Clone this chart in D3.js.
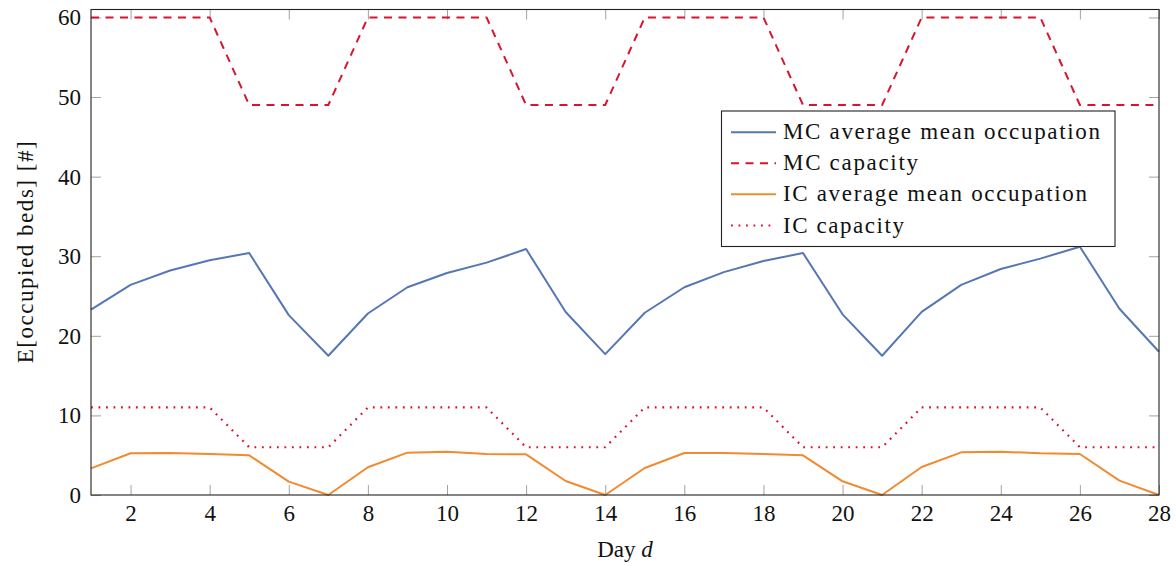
<!DOCTYPE html>
<html>
<head>
<meta charset="utf-8">
<script src="https://cdn.jsdelivr.net/npm/d3@7"></script>
<style>
  html, body { margin: 0; padding: 0; background: #fff; }
  svg { display: block; }
  text { font-family: "Liberation Serif", "Times New Roman", "DejaVu Serif", serif; fill: #111; }
</style>
</head>
<body>
<svg id="chart" width="1176" height="566"></svg>
<script>
// Days of the four-week horizon
const days = d3.range(1, 29);

// Expected occupied beds per day
const mcOccupation = [23.3, 26.4, 28.2, 29.5, 30.4, 22.6, 17.5,
                      22.8, 26.1, 27.9, 29.2, 30.9, 23.0, 17.7,
                      22.9, 26.1, 28.0, 29.4, 30.4, 22.7, 17.5,
                      23.0, 26.4, 28.4, 29.7, 31.2, 23.4, 18.0];
const mcCapacity   = [60, 60, 60, 60, 49, 49, 49,
                      60, 60, 60, 60, 49, 49, 49,
                      60, 60, 60, 60, 49, 49, 49,
                      60, 60, 60, 60, 49, 49, 49];
const icOccupation = [3.35, 5.24, 5.28, 5.15, 4.98, 1.68, 0,
                      3.48, 5.32, 5.44, 5.15, 5.11, 1.76, 0,
                      3.39, 5.28, 5.28, 5.15, 4.98, 1.72, 0,
                      3.52, 5.36, 5.44, 5.24, 5.15, 1.80, 0];
const icCapacity   = [11, 11, 11, 11, 6, 6, 6,
                      11, 11, 11, 11, 6, 6, 6,
                      11, 11, 11, 11, 6, 6, 6,
                      11, 11, 11, 11, 6, 6, 6];

// Axis ticks
const xTicks = d3.range(2, 29, 2);
const yTicks = [0, 10, 20, 30, 40, 50, 60];

// Series definitions (legend order)
const seriesNames  = ["MC average mean occupation", "MC capacity",
                      "IC average mean occupation", "IC capacity"];
const seriesValues = [mcOccupation, mcCapacity, icOccupation, icCapacity];
const seriesColors = ["#5577b3", "#d7152f", "#f28a30", "#d7152f"];
const seriesDashes = [null, "8,6.5", null, "1.8,5.7"];
const legendWidths = [317, 135, 304, 121];

const serif = '"Liberation Serif", "Times New Roman", "DejaVu Serif", serif';

const svg = d3.select("#chart");
const margin = { left: 91, right: 1159, top: 9.5, bottom: 495 };

const x = d3.scaleLinear().domain([1, 28]).range([margin.left, margin.right]);
const y = d3.scaleLinear().domain([0, 61]).range([margin.bottom, margin.top]);

const tickColor = "#a3a3a3";
const fontSize = 23;

// Inward ticks on all four sides
function styleAxis(g) {
  g.attr("font-family", null).attr("font-size", null);
  g.select(".domain").remove();
  g.selectAll(".tick line").attr("stroke", tickColor).attr("stroke-width", 1);
  g.selectAll(".tick text")
    .style("font-family", serif)
    .style("font-size", "23px")
    .attr("fill", "#111");
}

svg.append("g")
  .attr("transform", `translate(0,${margin.bottom})`)
  .call(d3.axisBottom(x).tickValues(xTicks).tickSize(-10).tickPadding(10))
  .call(styleAxis);

svg.append("g")
  .attr("transform", `translate(0,${margin.top})`)
  .call(d3.axisTop(x).tickValues(xTicks).tickSize(-10).tickFormat(""))
  .call(styleAxis);

svg.append("g")
  .attr("transform", `translate(${margin.left},0)`)
  .call(d3.axisLeft(y).tickValues(yTicks).tickSize(-10).tickPadding(10))
  .call(styleAxis);

svg.append("g")
  .attr("transform", `translate(${margin.right},0)`)
  .call(d3.axisRight(y).tickValues(yTicks).tickSize(-10).tickFormat(""))
  .call(styleAxis);

// Data lines
const line = d3.line().x((d, i) => x(days[i])).y(d => y(d));

seriesValues.forEach((vals, k) => {
  svg.append("path")
    .datum(vals)
    .attr("fill", "none")
    .attr("stroke", seriesColors[k])
    .attr("stroke-width", k === 3 ? 2.2 : 2)
    .attr("stroke-linejoin", "round")
    .attr("stroke-dasharray", seriesDashes[k])
    .attr("d", line);
});

// Plot frame
svg.append("rect")
  .attr("x", margin.left).attr("y", margin.top)
  .attr("width", margin.right - margin.left)
  .attr("height", margin.bottom - margin.top)
  .attr("fill", "none")
  .attr("stroke", "#222")
  .attr("stroke-width", 1.1);

// Axis titles
const xTitle = svg.append("text")
  .attr("x", (margin.left + margin.right) / 2)
  .attr("y", 557)
  .attr("text-anchor", "middle")
  .style("font-family", serif)
  .style("font-size", "23px");
xTitle.append("tspan").text("Day ");
xTitle.append("tspan").style("font-style", "italic").text("d");

svg.append("text")
  .attr("transform", `translate(33,${(margin.top + margin.bottom) / 2}) rotate(-90)`)
  .attr("text-anchor", "middle")
  .attr("textLength", 222)
  .attr("lengthAdjust", "spacing")
  .style("font-family", serif)
  .style("font-size", "23px")
  .text("E[occupied beds] [#]");

// Legend
const legend = svg.append("g");
legend.append("rect")
  .attr("x", 721.5).attr("y", 111)
  .attr("width", 393.5).attr("height", 135.5)
  .attr("fill", "#fff")
  .attr("stroke", "#222")
  .attr("stroke-width", 1.1);

const rowY = [132.3, 163.3, 194.3, 225.5];
seriesNames.forEach((name, k) => {
  legend.append("line")
    .attr("x1", 731).attr("x2", 776)
    .attr("y1", rowY[k]).attr("y2", rowY[k])
    .attr("stroke", seriesColors[k])
    .attr("stroke-width", k === 3 ? 2.2 : 2)
    .attr("stroke-dasharray", seriesDashes[k]);
  legend.append("text")
    .attr("x", 783)
    .attr("y", rowY[k] + 7)
    .attr("textLength", legendWidths[k])
    .attr("lengthAdjust", "spacing")
    .style("font-family", serif)
    .style("font-size", fontSize + "px")
    .text(name);
});
</script>
</body>
</html>
